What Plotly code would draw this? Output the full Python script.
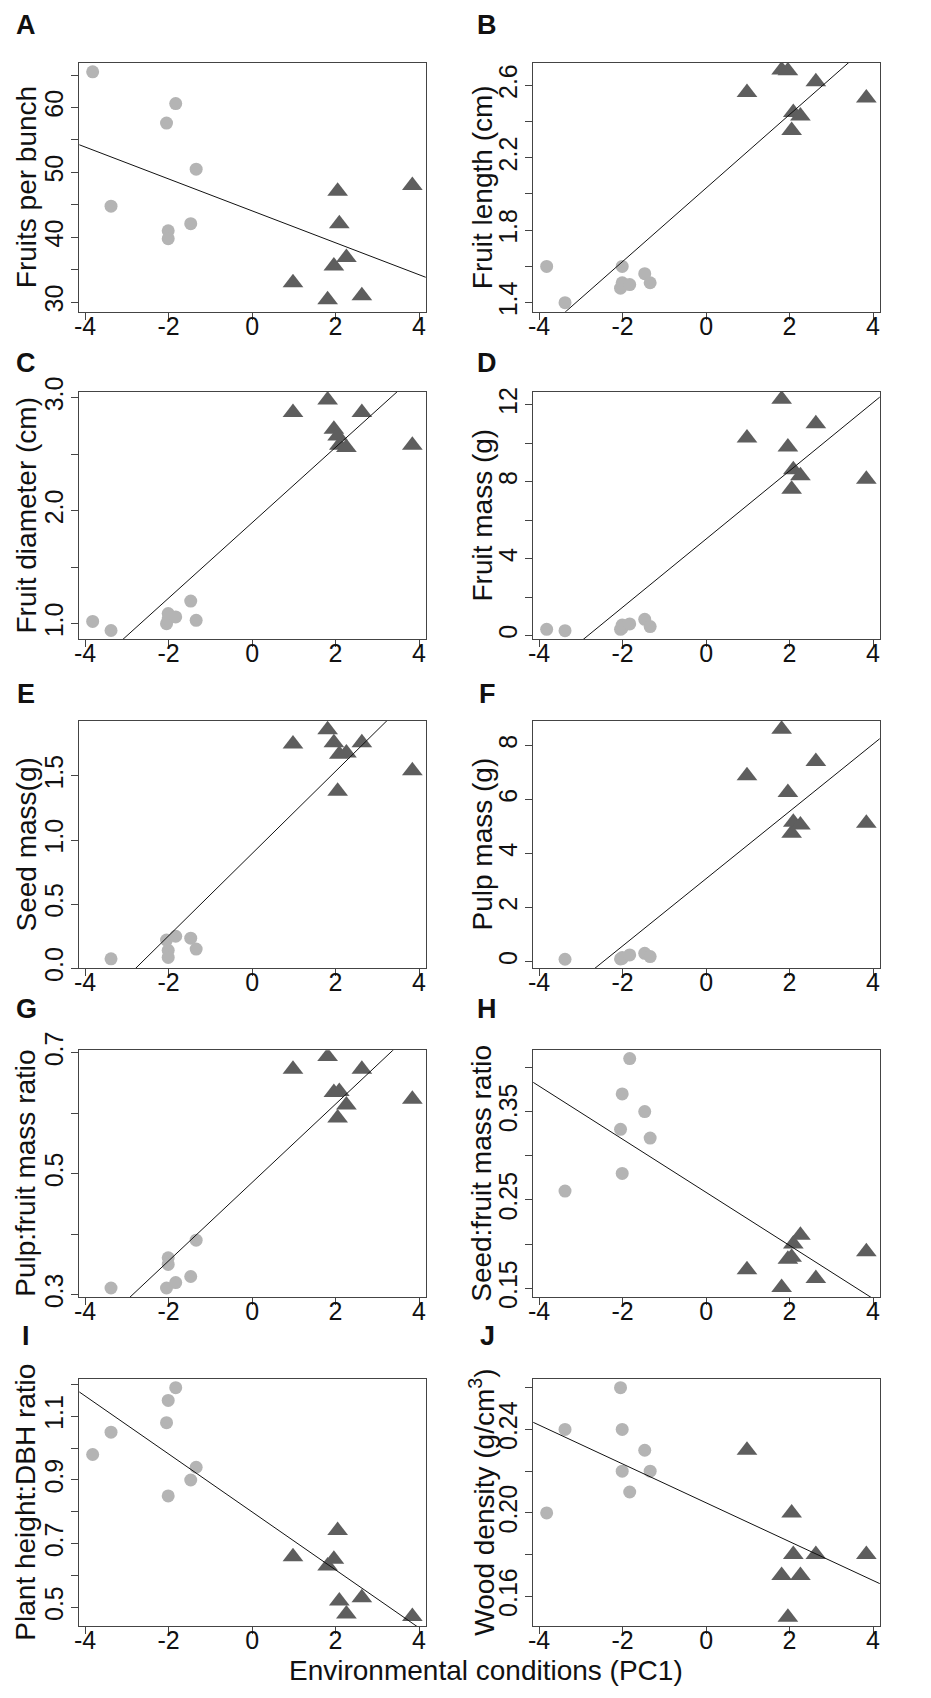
import numpy as np
import plotly.graph_objects as go

# ---------------- data ----------------
# PC1 scores of the sites (x); circles = one group of sites, triangles = the other
pc1_circles = [-3.82, -3.38, -2.05, -2.01, -2.01, -1.83, -1.47, -1.34]
pc1_triangles = [0.98, 1.81, 1.96, 2.05, 2.09, 2.26, 2.63, 3.84]

fruits_per_bunch_c = [65.5, 44.8, 57.6, 41.0, 39.8, 60.6, 42.1, 50.5]
fruits_per_bunch_t = [33.0, 30.4, 35.6, 47.1, 42.1, 36.9, 31.0, 48.0]

fruit_length_c = [1.60, 1.40, 1.48, 1.60, 1.51, 1.50, 1.56, 1.51]
fruit_length_t = [2.56, 2.685, 2.68, 2.35, 2.45, 2.43, 2.62, 2.53]

fruit_diameter_c = [1.02, 0.94, 1.00, 1.09, 1.04, 1.06, 1.20, 1.03]
fruit_diameter_t = [2.87, 2.98, 2.72, 2.66, 2.58, 2.56, 2.87, 2.58]

fruit_mass_c = [0.33, 0.26, 0.33, 0.55, 0.40, 0.61, 0.85, 0.47]
fruit_mass_t = [10.27, 12.29, 9.80, 7.61, 8.62, 8.31, 11.01, 8.13]

seed_mass_c = [None, 0.074, 0.22, 0.14, 0.085, 0.25, 0.235, 0.15]
seed_mass_t = [1.75, 1.86, 1.76, 1.38, 1.67, 1.68, 1.76, 1.54]

pulp_mass_c = [None, 0.09, 0.10, 0.15, 0.12, 0.25, 0.31, 0.19]
pulp_mass_t = [6.88, 8.60, 6.26, 4.75, 5.16, 5.06, 7.41, 5.12]

pulp_ratio_c = [None, 0.311, 0.311, 0.361, 0.350, 0.320, 0.330, 0.390]
pulp_ratio_t = [0.6725, 0.6935, 0.634, 0.592, 0.636, 0.6135, 0.6725, 0.6228]

seed_ratio_c = [None, 0.26, 0.33, 0.37, 0.28, 0.41, 0.35, 0.32]
seed_ratio_t = [0.171, 0.151, 0.183, 0.185, 0.200, 0.210, 0.161, 0.1915]

height_dbh_c = [0.98, 1.05, 1.08, 1.15, 0.85, 1.19, 0.90, 0.94]
height_dbh_t = [0.659, 0.63, 0.651, 0.741, 0.52, 0.479, 0.530, 0.471]

wood_density_c = [0.20, 0.24, 0.26, 0.24, 0.22, 0.21, 0.23, 0.22]
wood_density_t = [0.23, 0.17, 0.15, 0.20, 0.18, 0.17, 0.18, 0.18]

panel_letters = ["A", "B", "C", "D", "E", "F", "G", "H", "I", "J"]
y_titles = ["Fruits per bunch", "Fruit length (cm)", "Fruit diameter (cm)",
            "Fruit mass (g)", "Seed mass(g)", "Pulp mass (g)",
            "Pulp:fruit mass ratio", "Seed:fruit mass ratio",
            "Plant height:DBH ratio", "Wood density (g/cm<sup>3</sup>)"]
x_title = "Environmental conditions (PC1)"

x_tick_vals = [-4, -2, 0, 2, 4]
x_tick_text = ["-4", "-2", "0", "2", "4"]

y_tick_vals = [
    [30, 35, 40, 45, 50, 55, 60, 65],
    [1.4, 1.6, 1.8, 2.0, 2.2, 2.4, 2.6],
    [1.0, 1.5, 2.0, 2.5, 3.0],
    [0, 2, 4, 6, 8, 10, 12],
    [0.0, 0.5, 1.0, 1.5],
    [0, 2, 4, 6, 8],
    [0.3, 0.4, 0.5, 0.6, 0.7],
    [0.15, 0.20, 0.25, 0.30, 0.35, 0.40],
    [0.5, 0.6, 0.7, 0.8, 0.9, 1.0, 1.1, 1.2],
    [0.16, 0.18, 0.20, 0.22, 0.24, 0.26],
]
y_tick_text = [
    ["30", "", "40", "", "50", "", "60", ""],
    ["1.4", "", "1.8", "", "2.2", "", "2.6"],
    ["1.0", "", "2.0", "", "3.0"],
    ["0", "", "4", "", "8", "", "12"],
    ["0.0", "0.5", "1.0", "1.5"],
    ["0", "2", "4", "6", "8"],
    ["0.3", "", "0.5", "", "0.7"],
    ["0.15", "", "0.25", "", "0.35", ""],
    ["0.5", "", "0.7", "", "0.9", "", "1.1", ""],
    ["0.16", "", "0.20", "", "0.24", ""],
]

series = [
    (fruits_per_bunch_c, fruits_per_bunch_t),
    (fruit_length_c, fruit_length_t),
    (fruit_diameter_c, fruit_diameter_t),
    (fruit_mass_c, fruit_mass_t),
    (seed_mass_c, seed_mass_t),
    (pulp_mass_c, pulp_mass_t),
    (pulp_ratio_c, pulp_ratio_t),
    (seed_ratio_c, seed_ratio_t),
    (height_dbh_c, height_dbh_t),
    (wood_density_c, wood_density_t),
]

# ---------------- layout / style ----------------
# the page body has an 8px default margin: the figure is made smaller and all
# positions (given in page pixels) are shifted by that margin
PAGE_MARGIN = 8
W, H = 913, 1680
FONT = "Liberation Sans, Arial, Helvetica, sans-serif"
CIRCLE_COLOR = "#b4b4b4"
TRI_COLOR = "#5e5e5e"
AX_COLOR = "#444444"

x_range = [-4.14, 4.16]
y_ranges = [
    [28.55, 66.9], [1.35, 2.725], [0.862, 3.053], [-0.19, 12.68],
    [0.0, 1.931], [-0.245, 8.915], [0.2956, 0.7039], [0.1398, 0.4194],
    [0.4414, 1.2162], [0.1458, 0.264],
]
col_px = [(79.3, 425.7), (533.3, 879.7)]
row_px = [(62.7, 311.7), (391.7, 639.3), (720.7, 968.3), (1050.3, 1297.3), (1379.3, 1626.0)]
letter_y_px = [25, 363, 694, 1009, 1336]
letter_x_px = [26, 487]
ytitle_x_px = [26, 482]


def px_x(v):
    return (v - PAGE_MARGIN) / W


def px_y(v):
    return 1 - (v - PAGE_MARGIN) / H


fig = go.Figure()
annotations = []
layout_axes = {}

for i in range(10):
    r, c = divmod(i, 2)
    n = i + 1
    xa = "x" if n == 1 else f"x{n}"
    ya = "y" if n == 1 else f"y{n}"
    yc, yt = series[i]

    fig.add_trace(go.Scatter(
        x=pc1_circles, y=yc, xaxis=xa, yaxis=ya, mode="markers",
        marker=dict(symbol="circle", size=13, color=CIRCLE_COLOR, line=dict(width=0)),
        showlegend=False, hoverinfo="x+y"))
    fig.add_trace(go.Scatter(
        x=pc1_triangles, y=yt, xaxis=xa, yaxis=ya, mode="markers",
        marker=dict(symbol="triangle-up", size=18, color=TRI_COLOR, line=dict(width=0)),
        showlegend=False, hoverinfo="x+y"))

    # least-squares regression line through all points of the panel
    xs = np.array(pc1_circles + pc1_triangles, dtype=float)
    ys = np.array([np.nan if v is None else v for v in list(yc) + list(yt)], dtype=float)
    ok = ~np.isnan(ys)
    slope, intercept = np.polyfit(xs[ok], ys[ok], 1)
    lx = np.array([x_range[0] - 0.5, x_range[1] + 0.5])
    fig.add_trace(go.Scatter(
        x=lx, y=intercept + slope * lx, xaxis=xa, yaxis=ya, mode="lines",
        line=dict(color="#111111", width=1), showlegend=False, hoverinfo="skip"))

    x0, x1 = col_px[c]
    y0, y1 = row_px[r]
    key = "" if n == 1 else str(n)
    layout_axes["xaxis" + key] = dict(
        domain=[px_x(x0), px_x(x1)], anchor=ya, range=x_range,
        tickvals=x_tick_vals, ticktext=x_tick_text,
        ticks="outside", ticklen=7, tickwidth=1, tickcolor=AX_COLOR,
        showline=True, linecolor=AX_COLOR, linewidth=1, mirror=True,
        showgrid=False, zeroline=False, automargin=False,
        tickfont=dict(family=FONT, size=25, color="#111111"),
        ticklabelstandoff=-15,
    )
    layout_axes["yaxis" + key] = dict(
        domain=[px_y(y1), px_y(y0)], anchor=xa, range=y_ranges[i],
        tickvals=y_tick_vals[i], ticktext=y_tick_text[i], tickangle=-90,
        ticks="outside", ticklen=7, tickwidth=1, tickcolor=AX_COLOR,
        showline=True, linecolor=AX_COLOR, linewidth=1, mirror=True,
        showgrid=False, zeroline=False, automargin=False,
        tickfont=dict(family=FONT, size=25, color="#111111"),
        ticklabelstandoff=-2,
    )

    annotations.append(dict(
        text=f"<b>{panel_letters[i]}</b>", xref="paper", yref="paper",
        x=px_x(letter_x_px[c]), y=px_y(letter_y_px[r]), xanchor="center", yanchor="middle",
        showarrow=False, font=dict(family=FONT, size=27, color="#111111")))
    annotations.append(dict(
        text=y_titles[i], xref="paper", yref="paper", textangle=-90,
        x=px_x(ytitle_x_px[c]), y=px_y((y0 + y1) / 2), xanchor="center", yanchor="middle",
        showarrow=False, font=dict(family=FONT, size=28, color="#111111")))

annotations.append(dict(
    text=x_title, xref="paper", yref="paper", x=px_x(486), y=px_y(1670),
    xanchor="center", yanchor="middle", showarrow=False,
    font=dict(family=FONT, size=28, color="#111111")))

fig.update_layout(
    width=W, height=H, margin=dict(l=0, r=0, t=0, b=0),
    paper_bgcolor="white", plot_bgcolor="white",
    font=dict(family=FONT, color="#111111"),
    annotations=annotations, **layout_axes)

fig.write_html("out.html")
